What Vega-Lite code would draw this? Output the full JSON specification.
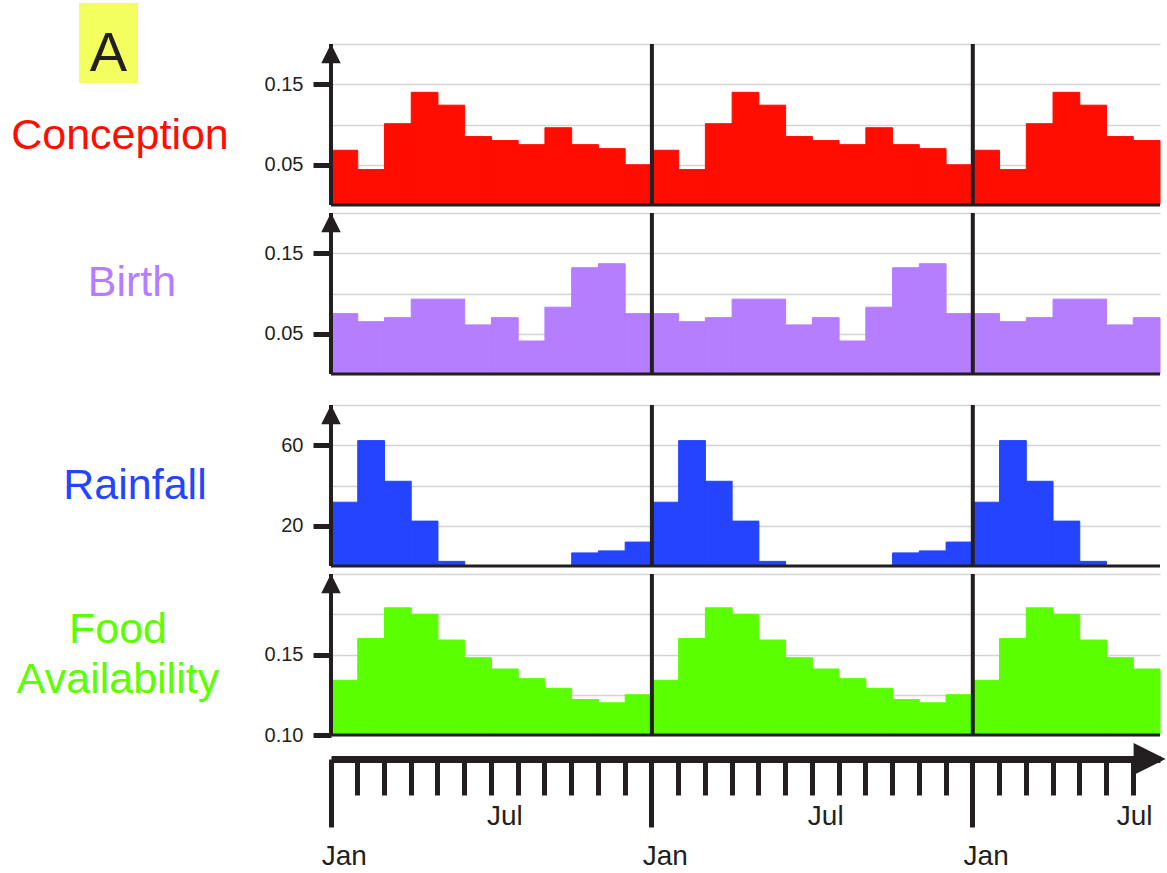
{
  "$schema": "https://vega.github.io/schema/vega-lite/v6.json",
  "padding": {"left": 0, "top": 3, "right": 0, "bottom": 0},
  "background": "white",
  "config": {
    "font": "Liberation Sans",
    "view": {"stroke": null},
    "axisY": {"domain": false, "tickColor": "#231f20", "tickWidth": 5, "tickSize": 18, "labelFontSize": 20, "labelColor": "#231f20", "labelPadding": 10, "gridColor": "#d4d4d4", "gridWidth": 1.5}
  },
  "datasets": {
    "months": [
      {"m": 0, "mon": "Jan", "c": 0.068, "b": 0.075, "r": 31.7, "f": 0.134},
      {"m": 1, "mon": "Feb", "c": 0.044, "b": 0.065, "r": 62.3, "f": 0.160},
      {"m": 2, "mon": "Mar", "c": 0.101, "b": 0.070, "r": 42.1, "f": 0.179},
      {"m": 3, "mon": "Apr", "c": 0.140, "b": 0.093, "r": 22.3, "f": 0.175},
      {"m": 4, "mon": "May", "c": 0.124, "b": 0.093, "r": 2.3, "f": 0.159},
      {"m": 5, "mon": "Jun", "c": 0.085, "b": 0.061, "r": 0, "f": 0.148},
      {"m": 6, "mon": "Jul", "c": 0.080, "b": 0.070, "r": 0, "f": 0.141},
      {"m": 7, "mon": "Aug", "c": 0.075, "b": 0.041, "r": 0, "f": 0.135},
      {"m": 8, "mon": "Sep", "c": 0.096, "b": 0.083, "r": 0, "f": 0.129},
      {"m": 9, "mon": "Oct", "c": 0.075, "b": 0.132, "r": 6.5, "f": 0.122},
      {"m": 10, "mon": "Nov", "c": 0.070, "b": 0.137, "r": 7.5, "f": 0.120},
      {"m": 11, "mon": "Dec", "c": 0.050, "b": 0.075, "r": 11.9, "f": 0.125},
      {"m": 12, "mon": "Jan", "c": 0.068, "b": 0.075, "r": 31.7, "f": 0.134},
      {"m": 13, "mon": "Feb", "c": 0.044, "b": 0.065, "r": 62.3, "f": 0.160},
      {"m": 14, "mon": "Mar", "c": 0.101, "b": 0.070, "r": 42.1, "f": 0.179},
      {"m": 15, "mon": "Apr", "c": 0.140, "b": 0.093, "r": 22.3, "f": 0.175},
      {"m": 16, "mon": "May", "c": 0.124, "b": 0.093, "r": 2.3, "f": 0.159},
      {"m": 17, "mon": "Jun", "c": 0.085, "b": 0.061, "r": 0, "f": 0.148},
      {"m": 18, "mon": "Jul", "c": 0.080, "b": 0.070, "r": 0, "f": 0.141},
      {"m": 19, "mon": "Aug", "c": 0.075, "b": 0.041, "r": 0, "f": 0.135},
      {"m": 20, "mon": "Sep", "c": 0.096, "b": 0.083, "r": 0, "f": 0.129},
      {"m": 21, "mon": "Oct", "c": 0.075, "b": 0.132, "r": 6.5, "f": 0.122},
      {"m": 22, "mon": "Nov", "c": 0.070, "b": 0.137, "r": 7.5, "f": 0.120},
      {"m": 23, "mon": "Dec", "c": 0.050, "b": 0.075, "r": 11.9, "f": 0.125},
      {"m": 24, "mon": "Jan", "c": 0.068, "b": 0.075, "r": 31.7, "f": 0.134},
      {"m": 25, "mon": "Feb", "c": 0.044, "b": 0.065, "r": 62.3, "f": 0.160},
      {"m": 26, "mon": "Mar", "c": 0.101, "b": 0.070, "r": 42.1, "f": 0.179},
      {"m": 27, "mon": "Apr", "c": 0.140, "b": 0.093, "r": 22.3, "f": 0.175},
      {"m": 28, "mon": "May", "c": 0.124, "b": 0.093, "r": 2.3, "f": 0.159},
      {"m": 29, "mon": "Jun", "c": 0.085, "b": 0.061, "r": 0, "f": 0.148},
      {"m": 30, "mon": "Jul", "c": 0.080, "b": 0.070, "r": 0, "f": 0.141}
    ]
  },
  "bounds": "full",
  "spacing": 14,
  "hconcat": [
    {
      "bounds": "full",
      "spacing": 0,
      "vconcat": [
        {
          "bounds": "flush",
          "spacing": 0,
          "hconcat": [
            {"width": 79, "height": 80, "data": {"values": [{}]}, "mark": "text", "encoding": {}},
            {"width": 59, "height": 80, "view": {"fill": "#f3ff5e", "stroke": null}, "data": {"values": [{"t": "A"}]},
             "mark": {"type": "text", "fontSize": 56, "color": "#231f20", "dy": 11},
             "encoding": {"text": {"field": "t"}}}
          ]
        },
        {"width": 250, "height": 105, "data": {"values": [{"label": "Conception"}]},
         "mark": {"type": "text", "fontSize": 43, "color": "#ff0d00", "dx": -5},
         "encoding": {"text": {"field": "label"}}},
        {"width": 250, "height": 189, "data": {"values": [{"label": "Birth"}]},
         "mark": {"type": "text", "fontSize": 43, "color": "#b57dff", "dx": 7},
         "encoding": {"text": {"field": "label"}}},
        {"width": 250, "height": 217, "data": {"values": [{"label": "Rainfall"}]},
         "mark": {"type": "text", "fontSize": 43, "color": "#2444ff", "dx": 10},
         "encoding": {"text": {"field": "label"}}},
        {"width": 250, "height": 121, "data": {"values": [{"label": "Food\nAvailability"}]},
         "mark": {"type": "text", "fontSize": 43, "color": "#5aff00", "dx": -7, "dy": -25, "lineBreak": "\n", "lineHeight": 50},
         "encoding": {"text": {"field": "label"}}}
      ]
    },
    {
      "bounds": "flush",
      "spacing": 0,
      "vconcat": [
        {"width": 829, "height": 41, "data": {"values": [{}]}, "mark": "text", "encoding": {}},
        {
          "width": 829, "height": 161,
          "data": {"name": "months"},
          "layer": [
            {"mark": {"type": "bar", "color": "#ff0d00", "stroke": "#ff0d00", "strokeWidth": 1, "opacity": 1},
             "encoding": {
               "x": {"field": "m", "type": "ordinal", "scale": {"paddingInner": 0, "paddingOuter": 0}, "axis": null},
               "y": {"field": "c", "type": "quantitative", "scale": {"domain": [0, 0.2], "nice": false},
                     "axis": {"title": null, "values": [0.05, 0.1, 0.15, 0.2], "grid": true,
                              "labelExpr": "(datum.value == 0.05 || datum.value == 0.15) ? format(datum.value, '.2f') : ''",
                              "tickOpacity": {"condition": {"test": "datum.value == 0.05 || datum.value == 0.15", "value": 1}, "value": 0}}}}},
            {"transform": [{"filter": "datum.mon == 'Jan'"}],
             "mark": {"type": "rule", "color": "#231f20", "strokeWidth": 4},
             "encoding": {"x": {"field": "m", "type": "ordinal", "bandPosition": 0}}},
            {"transform": [{"filter": "datum.m == 0"}],
             "mark": {"type": "rule", "color": "#231f20", "strokeWidth": 3},
             "encoding": {"y": {"datum": 0}}},
            {"transform": [{"filter": "datum.m == 0"}],
             "mark": {"type": "point", "shape": "M0,-1L1,1L-1,1Z", "filled": true, "color": "#231f20", "opacity": 1, "size": 380, "yOffset": 9.5},
             "encoding": {"x": {"field": "m", "type": "ordinal", "bandPosition": 0}, "y": {"datum": 0.2}}}
          ]
        },
        {"width": 829, "height": 8, "data": {"values": [{}]}, "mark": "text", "encoding": {}},
        {
          "width": 829, "height": 161,
          "data": {"name": "months"},
          "layer": [
            {"mark": {"type": "bar", "color": "#b57dff", "stroke": "#b57dff", "strokeWidth": 1, "opacity": 1},
             "encoding": {
               "x": {"field": "m", "type": "ordinal", "scale": {"paddingInner": 0, "paddingOuter": 0}, "axis": null},
               "y": {"field": "b", "type": "quantitative", "scale": {"domain": [0, 0.2], "nice": false},
                     "axis": {"title": null, "values": [0.05, 0.1, 0.15, 0.2], "grid": true,
                              "labelExpr": "(datum.value == 0.05 || datum.value == 0.15) ? format(datum.value, '.2f') : ''",
                              "tickOpacity": {"condition": {"test": "datum.value == 0.05 || datum.value == 0.15", "value": 1}, "value": 0}}}}},
            {"transform": [{"filter": "datum.mon == 'Jan'"}],
             "mark": {"type": "rule", "color": "#231f20", "strokeWidth": 4},
             "encoding": {"x": {"field": "m", "type": "ordinal", "bandPosition": 0}}},
            {"transform": [{"filter": "datum.m == 0"}],
             "mark": {"type": "rule", "color": "#231f20", "strokeWidth": 3},
             "encoding": {"y": {"datum": 0}}},
            {"transform": [{"filter": "datum.m == 0"}],
             "mark": {"type": "point", "shape": "M0,-1L1,1L-1,1Z", "filled": true, "color": "#231f20", "opacity": 1, "size": 380, "yOffset": 9.5},
             "encoding": {"x": {"field": "m", "type": "ordinal", "bandPosition": 0}, "y": {"datum": 0.2}}}
          ]
        },
        {"width": 829, "height": 31, "data": {"values": [{}]}, "mark": "text", "encoding": {}},
        {
          "width": 829, "height": 161,
          "data": {"name": "months"},
          "layer": [
            {"mark": {"type": "bar", "color": "#2444ff", "stroke": "#2444ff", "strokeWidth": 1, "opacity": 1},
             "encoding": {
               "x": {"field": "m", "type": "ordinal", "scale": {"paddingInner": 0, "paddingOuter": 0}, "axis": null},
               "y": {"field": "r", "type": "quantitative", "scale": {"domain": [0, 80], "nice": false},
                     "axis": {"title": null, "values": [20, 40, 60, 80], "grid": true,
                              "labelExpr": "(datum.value == 20 || datum.value == 60) ? datum.label : ''",
                              "tickOpacity": {"condition": {"test": "datum.value == 20 || datum.value == 60", "value": 1}, "value": 0}}}}},
            {"transform": [{"filter": "datum.mon == 'Jan'"}],
             "mark": {"type": "rule", "color": "#231f20", "strokeWidth": 4},
             "encoding": {"x": {"field": "m", "type": "ordinal", "bandPosition": 0}}},
            {"transform": [{"filter": "datum.m == 0"}],
             "mark": {"type": "rule", "color": "#231f20", "strokeWidth": 3},
             "encoding": {"y": {"datum": 0}}},
            {"transform": [{"filter": "datum.m == 0"}],
             "mark": {"type": "point", "shape": "M0,-1L1,1L-1,1Z", "filled": true, "color": "#231f20", "opacity": 1, "size": 380, "yOffset": 9.5},
             "encoding": {"x": {"field": "m", "type": "ordinal", "bandPosition": 0}, "y": {"datum": 80}}}
          ]
        },
        {"width": 829, "height": 8, "data": {"values": [{}]}, "mark": "text", "encoding": {}},
        {
          "width": 829, "height": 161,
          "data": {"name": "months"},
          "layer": [
            {"mark": {"type": "bar", "color": "#5aff00", "stroke": "#5aff00", "strokeWidth": 1, "opacity": 1},
             "encoding": {
               "x": {"field": "m", "type": "ordinal", "scale": {"paddingInner": 0, "paddingOuter": 0},
                     "axis": {"orient": "bottom", "offset": 24, "bandPosition": 0, "title": null, "grid": false, "zindex": 1,
                              "domainWidth": 7, "domainColor": "#231f20", "domainCap": "butt",
                              "tickColor": "#231f20", "tickWidth": 5,
                              "tickSize": {"condition": {"test": "datum.value % 12 == 0", "value": 68}, "value": 36},
                              "labelExpr": "datum.value % 12 == 0 ? 'Jan' : (datum.value % 12 == 6 ? 'Jul' : '')",
                              "labelFontSize": 28, "labelColor": "#231f20", "labelAngle": 0,
                              "labelOffset": {"condition": {"test": "datum.value == 30", "value": -12}, "value": 0},
                              "labelPadding": {"condition": {"test": "datum.value % 12 == 0", "value": 15}, "value": 7}}},
               "y": {"field": "f", "type": "quantitative", "scale": {"domain": [0.1, 0.2], "nice": false, "zero": false},
                     "axis": {"title": null, "values": [0.1, 0.125, 0.15, 0.175, 0.2], "grid": true,
                              "labelExpr": "(datum.value == 0.1 || datum.value == 0.15) ? format(datum.value, '.2f') : ''",
                              "tickOpacity": {"condition": {"test": "datum.value == 0.1 || datum.value == 0.15", "value": 1}, "value": 0}}},
               "y2": {"datum": 0.1}}},
            {"transform": [{"filter": "datum.mon == 'Jan'"}],
             "mark": {"type": "rule", "color": "#231f20", "strokeWidth": 4},
             "encoding": {"x": {"field": "m", "type": "ordinal", "bandPosition": 0}}},
            {"transform": [{"filter": "datum.m == 0"}],
             "mark": {"type": "rule", "color": "#231f20", "strokeWidth": 3},
             "encoding": {"y": {"datum": 0.1}}},
            {"transform": [{"filter": "datum.m == 0"}],
             "mark": {"type": "point", "shape": "M0,-1L1,1L-1,1Z", "filled": true, "color": "#231f20", "opacity": 1, "size": 380, "yOffset": 9.5},
             "encoding": {"x": {"field": "m", "type": "ordinal", "bandPosition": 0}, "y": {"datum": 0.2}}},
            {"transform": [{"filter": "datum.m == 30"}],
             "mark": {"type": "point", "shape": "M-1,-1L1,0L-1,1Z", "filled": true, "color": "#231f20", "opacity": 1, "size": 1024, "yOffset": 24, "xOffset": 3},
             "encoding": {"x": {"field": "m", "type": "ordinal"}, "y": {"datum": 0.1}}}
          ]
        }
      ]
    }
  ]
}
